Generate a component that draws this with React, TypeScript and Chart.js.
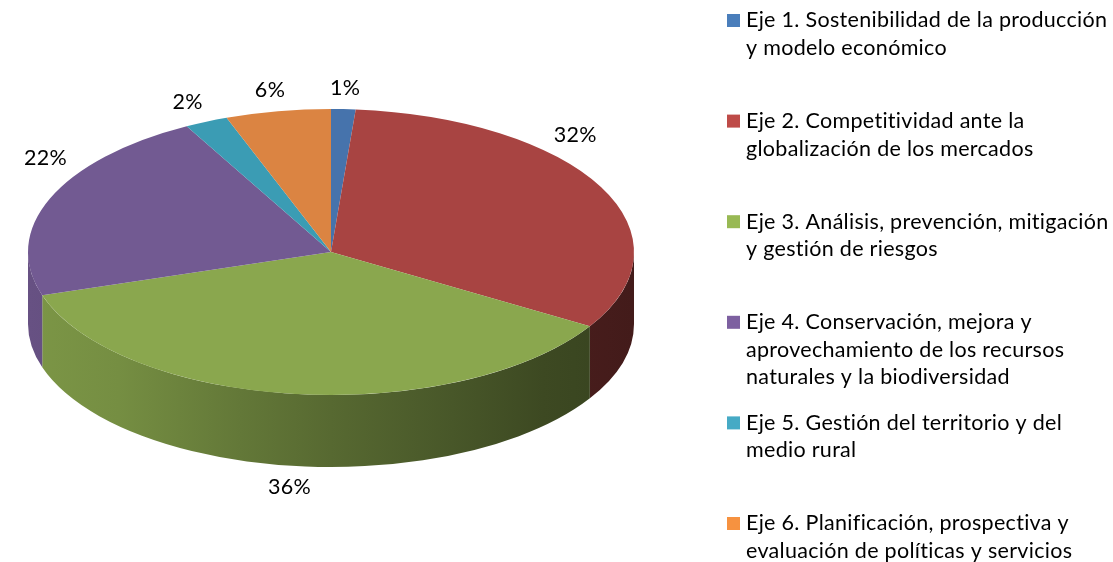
import React, { useEffect, useRef } from 'react';
import { Chart, registerables } from 'chart.js';

Chart.register(...registerables);

// ---- data ----
const categories = [
  'Eje 1. Sostenibilidad de la producción y modelo económico',
  'Eje 2. Competitividad ante la globalización de los mercados',
  'Eje 3. Análisis, prevención, mitigación y gestión de riesgos',
  'Eje 4. Conservación, mejora y aprovechamiento de los recursos naturales y la biodiversidad',
  'Eje 5. Gestión del territorio y del medio rural',
  'Eje 6. Planificación, prospectiva y evaluación de políticas y servicios',
];
const legendLines = [
  ['Eje 1. Sostenibilidad de la producción', 'y modelo económico'],
  ['Eje 2. Competitividad ante la', 'globalización de los mercados'],
  ['Eje 3. Análisis, prevención, mitigación', 'y gestión de riesgos'],
  ['Eje 4. Conservación, mejora y', 'aprovechamiento de los recursos', 'naturales y la biodiversidad'],
  ['Eje 5. Gestión del territorio y del', 'medio rural'],
  ['Eje 6. Planificación, prospectiva y', 'evaluación de políticas y servicios'],
];
const values = [1.3, 32.4, 36.4, 22.0, 2.3, 5.6];
const sliceColors = ['#4673AC', '#A84442', '#8AA74E', '#725A92', '#3B9CB4', '#DB8442'];
const legendColors = ['#4A7EBB', '#BE4B48', '#98B954', '#7D60A0', '#46AAC5', '#F69240'];

// ---- layout ----
const W = 1113;
const H = 562;
const PIE = { cx: 331, cy: 252, rx: 303, ry: 143, depth: 72 };
const LABEL_K = 1.15;
const LABEL_MIN_X = 23;
const LABEL_MAX_X = 597;
const FONT = '21.5px Lato, "Noto Sans", sans-serif';
const LETTER_SPACING = '0.3px';
const LEG = { boxX: 727, textX: 746, firstY: 20.5, step: 100.6, lineH: 27.5, box: 13 };
const SIDE_STOPS: [number, number][] = [
  [0, 0.9], [0.15, 0.85], [0.35, 0.72], [0.5, 0.63], [0.7, 0.52], [0.85, 0.44], [1, 0.4],
];

function shade(hex: string, f: number) {
  const n = parseInt(hex.slice(1), 16);
  const r = Math.round(((n >> 16) & 255) * f);
  const g = Math.round(((n >> 8) & 255) * f);
  const b = Math.round((n & 255) * f);
  return `rgb(${r},${g},${b})`;
}

function setFont(ctx: CanvasRenderingContext2D) {
  ctx.font = FONT;
  try {
    (ctx as any).letterSpacing = LETTER_SPACING;
  } catch (e) {
    /* ignore */
  }
}

const pie3d = {
  id: 'pie3d',
  beforeDatasetsDraw(chart: any) {
    const ctx = chart.ctx as CanvasRenderingContext2D;
    const meta = chart.getDatasetMeta(0);
    const els = meta.data as any[];
    chart.$pieSaved = false;
    if (!els.length) return;
    const { x: x0, y: y0, outerRadius: r0 } = els[0].getProps(['x', 'y', 'outerRadius'], true);
    const { cx, cy, rx, ry, depth } = PIE;
    const colors = chart.data.datasets[0].backgroundColor as string[];
    els.forEach((el, i) => {
      const { startAngle, endAngle } = el.getProps(['startAngle', 'endAngle'], true);
      const a1 = Math.max(startAngle, 0);
      const a2 = Math.min(endAngle, Math.PI);
      if (a2 <= a1) return;
      const g = ctx.createLinearGradient(cx - rx, 0, cx + rx, 0);
      SIDE_STOPS.forEach(([p, f]) => g.addColorStop(p, shade(colors[i], f)));
      ctx.beginPath();
      ctx.ellipse(cx, cy, rx, ry, 0, a1, a2, false);
      ctx.ellipse(cx, cy + depth, rx, ry, 0, a2, a1, true);
      ctx.closePath();
      ctx.fillStyle = g;
      ctx.fill();
    });
    ctx.save();
    ctx.translate(cx, cy);
    ctx.scale(rx / r0, ry / r0);
    ctx.translate(-x0, -y0);
    chart.$pieSaved = true;
  },
  afterDatasetsDraw(chart: any) {
    const ctx = chart.ctx as CanvasRenderingContext2D;
    if (chart.$pieSaved) ctx.restore();
    chart.$pieSaved = false;
    const meta = chart.getDatasetMeta(0);
    const els = meta.data as any[];
    const data = chart.data.datasets[0].data as number[];
    const total = data.reduce((a, b) => a + b, 0);
    const { cx, cy, rx, ry, depth } = PIE;
    ctx.save();
    setFont(ctx);
    ctx.fillStyle = '#000';
    ctx.textAlign = 'center';
    ctx.textBaseline = 'middle';
    els.forEach((el, i) => {
      const { startAngle, endAngle } = el.getProps(['startAngle', 'endAngle'], true);
      const text = Math.round((data[i] / total) * 100) + '%';
      const w = ctx.measureText(text).width;
      let th = (startAngle + endAngle) / 2 + Math.PI / 2; // from top, clockwise
      const pos = (t: number) => {
        const s = Math.sin(t);
        const c = Math.cos(t);
        return {
          x: cx + LABEL_K * rx * s,
          y: cy - LABEL_K * ry * c + (c < 0 ? -c * depth : 0),
        };
      };
      let p = pos(th);
      let guard = 0;
      while ((p.x - w / 2 < LABEL_MIN_X || p.x + w / 2 > LABEL_MAX_X) && guard < 400) {
        const s = Math.sin(th);
        const c = Math.cos(th);
        const step = (0.5 * Math.PI) / 180;
        if (c >= 0) th += s > 0 ? -step : step;
        else th += s > 0 ? step : -step;
        p = pos(th);
        guard++;
      }
      ctx.fillText(text, p.x, p.y);
    });
    ctx.restore();
  },
  afterDraw(chart: any) {
    const ctx = chart.ctx as CanvasRenderingContext2D;
    ctx.save();
    setFont(ctx);
    ctx.textAlign = 'left';
    ctx.textBaseline = 'middle';
    legendLines.forEach((lines, i) => {
      const yc = LEG.firstY + i * LEG.step;
      ctx.fillStyle = legendColors[i];
      ctx.fillRect(LEG.boxX, yc - LEG.box / 2, LEG.box, LEG.box);
      ctx.fillStyle = '#000';
      lines.forEach((line, j) => ctx.fillText(line, LEG.textX, yc + j * LEG.lineH));
    });
    ctx.restore();
  },
};

export default function App() {
  const ref = useRef<HTMLCanvasElement>(null);
  useEffect(() => {
    if (!ref.current) return;
    const chart = new Chart(ref.current, {
      type: 'pie',
      data: {
        labels: categories,
        datasets: [
          {
            data: values,
            backgroundColor: sliceColors,
            borderWidth: 0,
            clip: false as any,
          },
        ],
      },
      options: {
        responsive: false,
        animation: false,
        events: [],
        layout: { padding: { left: 0, right: W - 2 * PIE.cx, top: 0, bottom: 0 } },
        plugins: {
          legend: { display: false },
          tooltip: { enabled: false },
        },
      },
      plugins: [pie3d],
    });
    return () => chart.destroy();
  }, []);
  return (
    <div style={{ position: 'fixed', left: 0, top: 0, width: W, height: H, background: '#fff' }}>
      <canvas ref={ref} width={W} height={H} style={{ display: 'block' }} />
    </div>
  );
}
